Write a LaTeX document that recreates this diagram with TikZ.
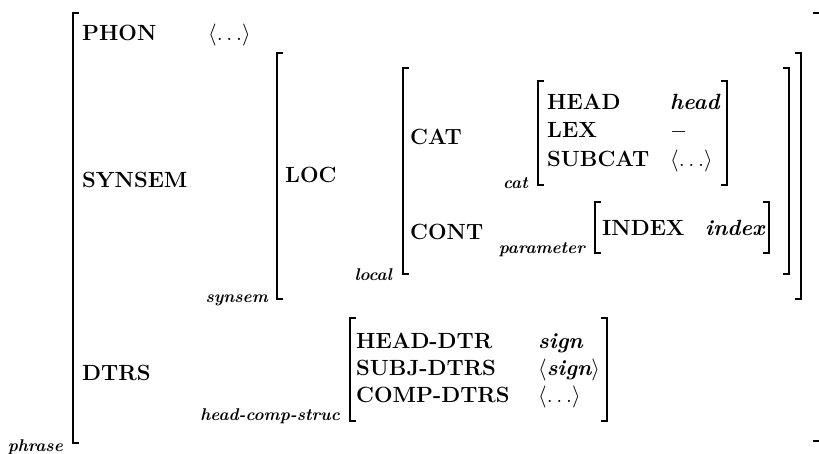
\RequirePackage{fix-cm}
\documentclass[tikz,border=0pt]{standalone}
\tikzset{
  attr/.style={anchor=base west, inner sep=0pt, font=\fontsize{22}{26}\selectfont\bfseries},
  val/.style={anchor=base west, inner sep=0pt, font=\fontsize{22}{26}\selectfont\bfseries\itshape},
  typ/.style={anchor=base east, inner sep=0pt, font=\fontsize{17}{19}\selectfont\bfseries\itshape},
  brk/.style={line width=1.9pt, line cap=butt, line join=miter},
}
\begin{document}
\begin{tikzpicture}[x=1pt,y=-1pt]
\useasboundingbox (0,0) rectangle (819,454);
% outer (phrase)
\draw[brk] (79,13) -- (73,13) -- (73,443) -- (79,443);
\draw[brk] (813,13) -- (819,13);
\draw[brk] (813,441) -- (819,441);
\node[typ] (tphrase) at (63,451) {phrase};
\node[attr] (phon) at (82,41) {PHON};
\node[attr] (phonv) at (208,41) {$\langle\ldots\rangle$};
\node[attr] (synsem) at (82,188) {SYNSEM};
\node[attr] (dtrs) at (82,380) {DTRS};
% synsem
\draw[brk] (283,53) -- (277,53) -- (277,299) -- (283,299);
\draw[brk] (795,53) -- (801,53) -- (801,299) -- (795,299);
\node[typ] (tsynsem) at (268,302) {synsem};
\node[attr] (loc) at (285,183) {LOC};
% local
\draw[brk] (409,68) -- (403,68) -- (403,274) -- (409,274);
\draw[brk] (783,68) -- (789,68) -- (789,274) -- (783,274);
\node[typ] (tlocal) at (392,281) {local};
\node[attr] (cat) at (410,145) {CAT};
\node[attr] (cont) at (410,240) {CONT};
% cat
\draw[brk] (544,81) -- (538,81) -- (538,185) -- (544,185);
\draw[brk] (721,81) -- (727,81) -- (727,185) -- (721,185);
\node[typ] (tcat) at (528,189) {cat};
\node[attr] (head) at (547,110) {HEAD};
\node[val] (headv) at (670,110) {head};
\node[attr] (lex) at (547,138) {LEX};
\node[attr] (lexv) at (670,138) {$-$};
\node[attr] (subcat) at (547,167) {SUBCAT};
\node[attr] (subcatv) at (670,167) {$\langle\ldots\rangle$};
% parameter
\draw[brk] (601,202) -- (595,202) -- (595,253) -- (601,253);
\draw[brk] (763,202) -- (769,202) -- (769,253) -- (763,253);
\node[typ] (tparam) at (585,254) {parameter};
\node[attr] (index) at (602,236) {INDEX};
\node[val] (indexv) at (705,236) {index};
% head-comp-struc
\draw[brk] (356,318) -- (350,318) -- (350,421) -- (356,421);
\draw[brk] (601,318) -- (607,318) -- (607,421) -- (601,421);
\node[typ] (thcs) at (340,420) {head-comp-struc};
\node[attr] (hd) at (356,348) {HEAD-DTR};
\node[val] (hdv) at (538,348) {sign};
\node[attr] (sd) at (356,375) {SUBJ-DTRS};
\node[val] (sdv) at (538,375) {$\langle$sign$\rangle$};
\node[attr] (cd) at (356,402) {COMP-DTRS};
\node[attr] (cdv) at (538,402) {$\langle\ldots\rangle$};
\end{tikzpicture}
\end{document}
